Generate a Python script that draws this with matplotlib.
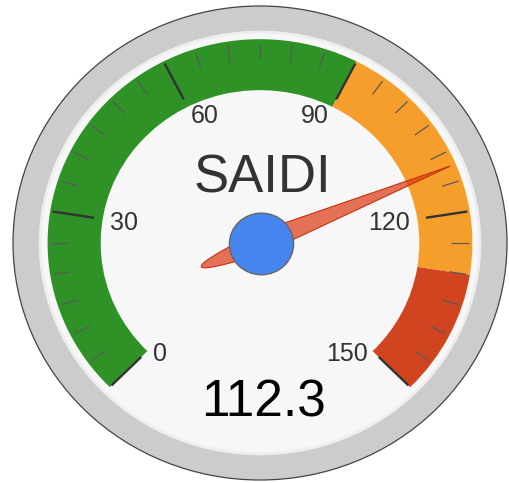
import numpy as np
import matplotlib
matplotlib.use('Agg')
import matplotlib.pyplot as plt
from matplotlib.patches import Circle, Wedge, Polygon

# ---- data ----
title = "SAIDI"
value = 112.3
vmin, vmax = 0, 150
major_ticks = [0, 30, 60, 90, 120, 150]
minor_step = 5
band_starts = [0, 90, 130]
band_ends = [90, 130, 150]
band_colors = ['#2e9226', '#f69e2b', '#d0451f']

# ---- layout ----
fig = plt.figure(figsize=(5.10, 4.83), dpi=100)
ax = fig.add_axes([0, 0, 1, 1])
ax.set_xlim(-260 / 247, 250 / 247)
ax.set_ylim(-240 / 237, 243 / 237)
ax.axis('off')

FONT = 'Liberation Sans'


def ang(v):
    return np.deg2rad(225 - (v - vmin) / (vmax - vmin) * 270)


# frame
ax.add_patch(Circle((0, 0), 1.0, fc='#cccccc', ec='#444444', lw=0.9, zorder=1))
ax.add_patch(Circle((0, 0), 0.89, fc='#f7f7f7', ec='#eeeeee', lw=2.0, zorder=2))

# bands
r_out, r_in = 0.86, 0.645
for a, b, c in zip(band_starts, band_ends, band_colors):
    ax.add_patch(Wedge((0, 0), r_out, np.rad2deg(ang(b)), np.rad2deg(ang(a)),
                       width=r_out - r_in, fc=c, ec='none', zorder=3))

# ticks
for v in range(vmin, vmax + 1, minor_step):
    t = ang(v)
    if v in major_ticks:
        r0, r1, col, lw = 0.68, 0.85, '#333333', 1.7
    else:
        r0, r1, col, lw = 0.775, 0.845, '#5a5a5a', 0.9
    ax.plot([r0 * np.cos(t), r1 * np.cos(t)], [r0 * np.sin(t), r1 * np.sin(t)],
            color=col, lw=lw, solid_capstyle='butt', zorder=4)

# tick labels
for v in major_ticks:
    t = ang(v)
    r = 0.615
    x, y = r * np.cos(t), r * np.sin(t)
    ha = 'left' if v < (vmin + vmax) / 2 else 'right'
    if abs(np.cos(t)) > 0.6 and np.sin(t) < 0:
        y -= 0.025
    ax.text(x, y, str(v), ha=ha, va='center_baseline', fontsize=18,
            color='#333333', family=FONT, zorder=5)

# title & value
ax.text(0.008, 0.215, title, ha='center', va='baseline', fontsize=38,
        color='#333333', family=FONT, zorder=5)
ax.text(0.014, -0.734, f"{value:.1f}", ha='center', va='baseline', fontsize=37,
        color='#000000', family=FONT, zorder=5)

# needle
t = ang(value)
u = np.array([np.cos(t), np.sin(t)])
n = np.array([-np.sin(t), np.cos(t)])
L_tip, L_tail, W = 0.835, 0.258, 0.046
ts = np.linspace(0, L_tip, 40)
ws = W * (1 - ts / L_tip)
ss = np.linspace(0, 1, 60)
tt = -L_tail * ss
wt = W * np.sqrt(np.clip(1 - ss, 0, 1))
side1 = [s * u + w * n for s, w in zip(ts[::-1], ws[::-1])]
side_tail1 = [s * u + w * n for s, w in zip(tt, wt)]
side_tail2 = [s * u - w * n for s, w in zip(tt[::-1], wt[::-1])]
side2 = [s * u - w * n for s, w in zip(ts, ws)]
pts = np.array(side1 + side_tail1 + side_tail2 + side2)
ax.add_patch(Polygon(pts, closed=True, fc=(0.863, 0.224, 0.071, 0.7),
                     ec='#c63310', lw=0.8, zorder=6))

# hub
ax.add_patch(Circle((0.006, -0.004), 0.13, fc='#4684ee', ec='#666666', lw=1.0, zorder=7))

fig.savefig('out.png', dpi=100)
